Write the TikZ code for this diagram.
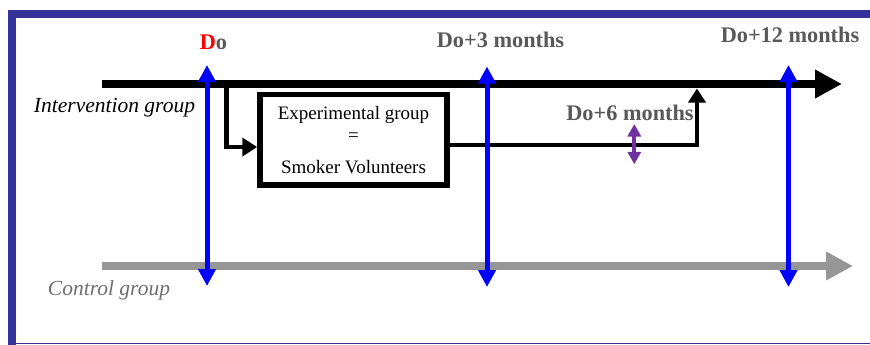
\documentclass[tikz,border=0pt]{standalone}
\usepackage{fontspec}
\setmainfont{Liberation Serif}
\usetikzlibrary{arrows.meta}
\definecolor{framecol}{HTML}{333399}
\definecolor{labgray}{HTML}{595959}
\definecolor{ctrlgray}{HTML}{6E6E6E}
\definecolor{linegray}{HTML}{969696}
\definecolor{purp}{HTML}{7030A0}
\definecolor{myblue}{HTML}{0000FF}
\tikzset{
  timelabel/.style={anchor=base,inner sep=0pt,text=labgray,font=\fontsize{22.3}{26}\selectfont\bfseries},
  grouplabel/.style={anchor=base,inner sep=0pt,font=\fontsize{21.5}{24}\selectfont\itshape},
  mainline/.style={line width=8.5pt,-{Triangle[length=27pt,width=27pt]}},
  visit/.style={myblue,line width=5pt,{Triangle[length=17pt,width=17pt]}-{Triangle[length=17pt,width=17pt]}},
  conn/.style={line width=4.5pt,-{Triangle[length=15pt,width=18pt]}},
  groupbox/.style={draw,line width=5.5pt,minimum width=187pt,minimum height=90.5pt,inner sep=0pt,align=center,
    font=\fontsize{19}{22}\selectfont}
}
\begin{document}
\begin{tikzpicture}[x=1pt,y=-1pt]
\useasboundingbox (0,0) rectangle (870,345);
% frame
\fill[framecol] (8,10) rectangle (870,18.5);
\fill[framecol] (7.5,10) rectangle (16,345);
\draw[framecol,line width=1.5pt] (8,343.3) -- (870,343.3);
% coordinates
\coordinate (istart) at (102,84);
\coordinate (iend) at (842,84);
\coordinate (cstart) at (102,266);
\coordinate (cend) at (853,266);
\coordinate (aTop) at (207,65);
\coordinate (aBot) at (207,286);
\coordinate (bTop) at (487,66.5);
\coordinate (bBot) at (487,287);
\coordinate (cTop) at (788.5,65);
\coordinate (cBot) at (788.5,287);
\coordinate (split) at (226.7,84);
\coordinate (merge) at (697,88.5);
\coordinate (pTop) at (634.3,124);
\coordinate (pBot) at (634.3,164.3);
% labels
\node[timelabel] (l0) at (213.5,49) {\textcolor{red}{D}o};
\node[timelabel] (l3) at (500.5,48) {Do+3 months};
\node[timelabel] (l12) at (790,42.7) {Do+12 months};
\node[timelabel] (l6) at (630,120.5) {Do+6 months};
\node[grouplabel] (ig) at (114.5,112.7) {Intervention group};
\node[grouplabel,text=ctrlgray] (cg) at (109,295) {Control group};
% timelines
\draw[mainline] (istart) -- (iend);
\draw[mainline,linegray] (cstart) -- (cend);
% box
\node[groupbox] (box) at (353.5,139.75) {Experimental group\\=\\[10pt]Smoker Volunteers};
% connectors
\draw[conn] (split) |- ([yshift=-7.3pt]box.west);
\draw[line width=4pt,-{Triangle[length=14pt,width=17pt]}] ([yshift=-5.5pt]box.east) -| (merge);
% visits
\draw[visit] (aBot) -- (aTop);
\draw[visit] (bBot) -- (bTop);
\draw[visit] (cBot) -- (cTop);
\draw[purp,line width=4pt,{Triangle[length=12.5pt,width=13pt]}-{Triangle[length=12.5pt,width=13pt]}] (pBot) -- (pTop);
\end{tikzpicture}
\end{document}
